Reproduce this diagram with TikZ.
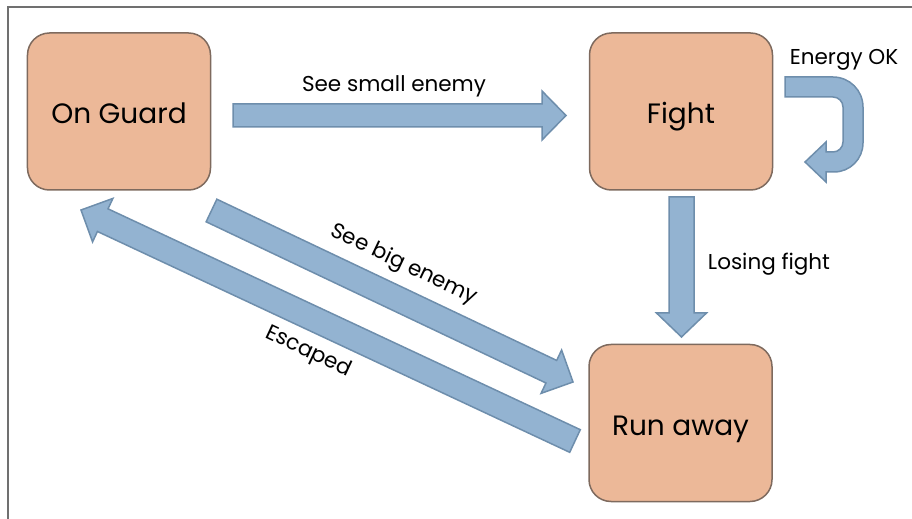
\documentclass[tikz,border=0pt]{standalone}
\usepackage{fontspec}
\setmainfont{Poppins}
\usetikzlibrary{calc}

\definecolor{statefill}{HTML}{ECB898}
\definecolor{stateline}{HTML}{7E6A5E}
\definecolor{arrowfill}{HTML}{93B3D1}
\definecolor{arrowline}{HTML}{6E8EAC}
\definecolor{framegray}{HTML}{707070}

\tikzset{
  state/.style={draw=stateline, line width=1.5bp, fill=statefill, rounded corners=22bp,
    minimum width=183bp, minimum height=157bp, inner sep=0pt,
    text height=25bp, text depth=0pt,
    font=\fontsize{28bp}{34bp}\selectfont},
  blockarrow/.style={draw=arrowline, line width=1.5bp, fill=arrowfill, line join=miter},
  edgelabel/.style={inner sep=0pt, font=\fontsize{21.5bp}{26bp}\selectfont},
  flatlabel/.style={edgelabel, text height=16bp, text depth=0pt},
  frame/.style={draw=framegray, line width=1.5bp}
}

% block arrow from #1 (tail) to #2 (tip); shaft half width #3, head half width #4, head length #5
\newcommand\drawblockarrow[5]{%
  \path ($(#2)!#5!(#1)$) coordinate (hb);
  \draw[blockarrow] ($(#1)!#3!90:(#2)$) -- ($(hb)!#3!90:(#2)$) -- ($(hb)!#4!90:(#2)$)
    -- (#2) -- ($(hb)!#4!-90:(#2)$) -- ($(hb)!#3!-90:(#2)$) -- ($(#1)!#3!-90:(#2)$) -- cycle;
}

\begin{document}
\begin{tikzpicture}[x=1bp, y=-1bp]
  \useasboundingbox (0,0) rectangle (912,519);

  % outer frame (top and left edges only)
  \draw[frame] (8,519) -- (8,7) -- (912,7);

  % states
  \node[state] (guard) at (119,111.5) {On Guard};
  \node[state] (fight) at (681,111.5) {Fight};
  \node[state] (run)   at (680.5,423) {Run away};

  % arrow end points
  \coordinate (smallT) at (233,115.5);
  \coordinate (smallH) at (566,115.5);
  \coordinate (loseT)  at (681.5,197);
  \coordinate (loseH)  at (681.5,337);
  \coordinate (bigT)   at (211.5,210.5);
  \coordinate (bigH)   at (573,382);
  \coordinate (escT)   at (575,441);
  \coordinate (escH)   at (81,210);

  \drawblockarrow{smallT}{smallH}{11.5bp}{24.5bp}{24bp}
  \drawblockarrow{loseT}{loseH}{12.5bp}{25bp}{24bp}
  \drawblockarrow{bigT}{bigH}{12.5bp}{24bp}{24bp}
  \drawblockarrow{escT}{escH}{12.5bp}{24bp}{24bp}

  % self loop on Fight (U-turn arrow)
  \draw[blockarrow] (785,77) -- (833,77) arc[start angle=-90, end angle=0, radius=30]
    -- (863,143) arc[start angle=0, end angle=90, radius=29]
    -- (826,172) -- (826,182) -- (805,162) -- (826,142) -- (826,152) -- (833,152)
    arc[start angle=90, end angle=0, radius=10] -- (843,107)
    arc[start angle=0, end angle=-90, radius=10] -- (785,97) -- cycle;

  % transition labels
  \node[flatlabel] (lsmall) at (394,84) {See small enemy};
  \node[flatlabel] (lok)    at (844,57) {Energy OK};
  \node[flatlabel] (llose)  at (769,262) {Losing fight};
  \node[edgelabel, rotate=-25.4] (lbig) at (404,265) {See big enemy};
  \node[edgelabel, rotate=-25.1] (lesc) at (308,352) {Escaped};
\end{tikzpicture}
\end{document}
